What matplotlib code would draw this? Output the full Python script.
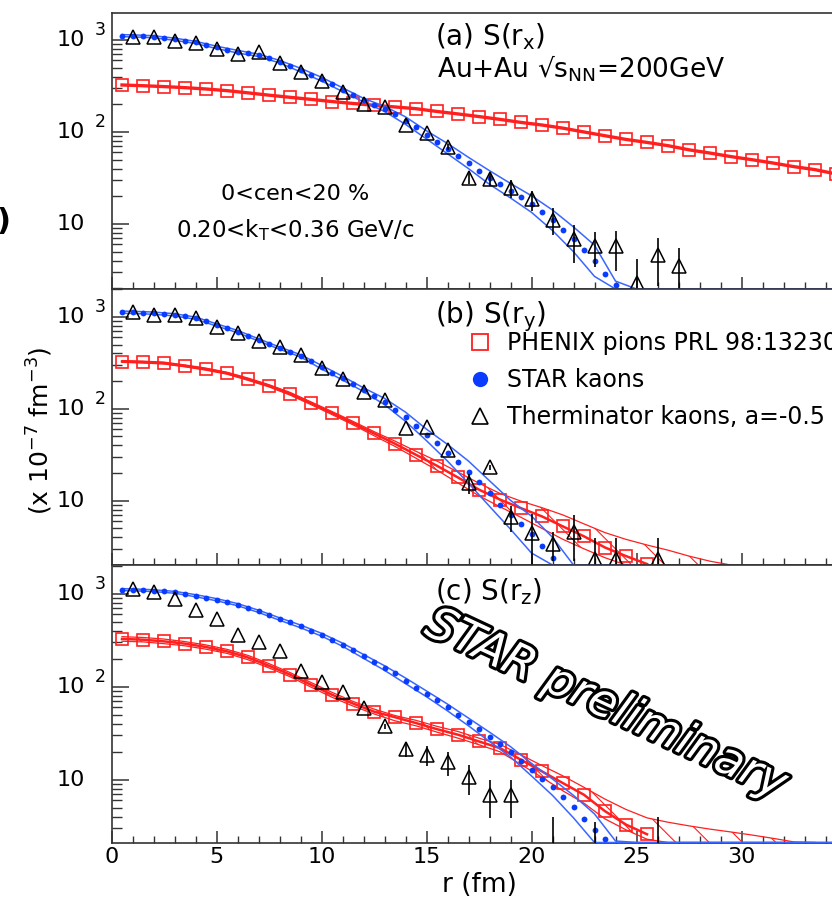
import numpy as np
import matplotlib.pyplot as plt
import matplotlib.patheffects as pe
from matplotlib.lines import Line2D
from matplotlib.ticker import FixedLocator, LogLocator, MultipleLocator, NullFormatter
from matplotlib.transforms import offset_copy

plt.rcParams['font.family'] = ['DejaVu Sans']
plt.rcParams['mathtext.default'] = 'regular'
plt.rcParams['hatch.linewidth'] = 0.8

RED = '#ff1f1f'
BLUE = '#0a3cff'
BAND_BLUE = '#3a66ff'
FRAME = '#333333'

W, H = 832, 901

# PHENIX pions (r = 0.5, 1.5, ...)
pi_r = np.arange(0.5, 35.0, 1.0)
pi_x = [324, 318, 311, 303, 293, 281, 266, 251, 238, 226, 214, 204, 195, 187, 179,
        167, 157, 147, 137, 127, 119, 110, 100, 91, 83, 77, 71, 64, 59, 54,
        50, 46, 42, 39, 35]
pi_y = [327, 322, 314, 293, 270, 244, 210, 178, 146, 115, 90, 70, 54, 41.7, 31.6,
        24, 17.9, 13.2, 10.3, 8.3, 6.75, 5.25, 4.1, 3.1, 2.5, 2.05]
pi_z = [326, 320, 307, 290, 267, 240, 206, 168, 135, 105, 82, 66, 54, 47, 40.7,
        35, 30.5, 25.8, 21.9, 16.4, 12.3, 9.2, 6.9, 4.6, 3.3, 2.6]

# PHENIX fit bands for S(r_y) and S(r_z)
pib_y_hi = [335, 330, 322, 300, 277, 250, 216, 183, 151, 119, 93.5, 73, 56.5, 44.5, 34.5,
            27, 20.5, 15.5, 12, 9.9, 8.4, 7.0, 5.6, 4.5, 3.8, 3.3, 2.9, 2.5, 2.2, 2.0]
pib_y_lo = [320, 315, 307, 286, 263, 238, 204, 173, 141, 111, 86.5, 67, 51, 39, 29,
            21.5, 15.6, 11.3, 8.6, 6.6, 5.0, 3.8, 3.0, 2.4, 2.0, 0, 0, 0, 0, 0]
pib_z_hi = [345, 338, 325, 305, 281, 252, 217, 177, 142, 111, 87, 69.5, 57.5, 49, 43.5,
            37.5, 33, 28, 24, 18.5, 14.2, 11, 8.3, 6.2, 4.8, 3.9, 3.5, 3.2, 2.95, 2.75,
            2.55, 2.35, 2.15, 0]
pib_z_lo = [308, 303, 290, 275, 253, 228, 195, 159, 128, 99, 77, 62, 51, 43, 38,
            32.5, 28, 23.8, 20, 14.6, 10.6, 7.6, 5.6, 3.8, 2.9, 2.3, 0, 0, 0, 0,
            0, 0, 0, 0]

# STAR kaons (r = 0.5, 1.0, 1.5, ...)
ka_x = [1110, 1105, 1095, 1080, 1050, 1015, 980, 940, 885, 830, 785, 745, 715, 680, 630,
        580, 525, 470, 420, 375, 330, 288, 252, 222, 198, 178, 155, 133, 112, 93,
        78, 66, 55, 46, 38, 32, 27, 23, 19.5, 16.5, 13.5, 11, 8.6, 6.8, 5.2,
        4.0, 2.9, 2.2]
ka_y = [1125, 1120, 1110, 1097, 1075, 1052, 1010, 968, 895, 818, 755, 692, 625, 562, 508,
        457, 415, 377, 330, 284, 248, 216, 187, 161, 139, 120, 98, 82, 65, 52,
        42, 33, 26.5, 20.5, 16, 12, 9, 7, 5.6, 4.3, 3.2, 2.4]
ka_z = [1104, 1100, 1090, 1076, 1055, 1033, 993, 950, 905, 861, 810, 762, 705, 646, 590,
        534, 490, 445, 400, 362, 320, 283, 245, 212, 185, 159, 140, 116, 98, 84,
        72, 60, 50, 42, 35, 29, 24.5, 20, 16, 12.8, 10.2, 8.3, 6.6, 5.1, 3.8,
        2.9, 2.3]

# STAR fit band edges
kb_r_x = [0.5] + list(range(1, 26)) + [35]
kb_x_hi = [1140, 1135, 1110, 1045, 965, 855, 770, 700, 600, 492, 393, 302, 232, 190, 146,
           103, 75, 53, 38, 27.6, 20.3, 14.2, 9.3, 5.9, 2.4, 0, 0]
kb_x_lo = [1085, 1080, 1055, 990, 915, 805, 722, 660, 563, 450, 358, 275, 212, 167, 121,
           84, 58, 40, 27, 19.2, 13.4, 8.5, 5.0, 2.7, 0, 0, 0]
kb_r_y = [0.5] + list(range(1, 26))
kb_y_hi = [1155, 1150, 1128, 1082, 995, 841, 712, 578, 470, 388, 297, 226, 169, 130, 92,
           60, 41, 27, 16.5, 10.1, 6.8, 4.0, 2.0, 0, 0, 0]
kb_y_lo = [1095, 1090, 1067, 1024, 942, 796, 673, 547, 445, 367, 271, 206, 154, 111, 73,
           45, 27, 15.5, 8.7, 4.9, 2.7, 0, 0, 0, 0, 0]
kb_r_z = [0.5] + list(range(1, 26)) + [35]
kb_z_hi = [1130, 1125, 1100, 1058, 975, 884, 782, 664, 550, 460, 375, 294, 222, 168, 124,
           90, 65, 46, 32.5, 22.7, 15, 10.2, 6.8, 4.3, 2.2, 0, 0]
kb_z_lo = [1080, 1075, 1052, 1010, 925, 838, 742, 628, 518, 430, 350, 272, 202, 150, 108,
           78, 55, 38, 25.8, 17.6, 11, 6.8, 3.9, 2.1, 0, 0, 0]

# Therminator kaons, a=-0.5
th_r_x = list(range(1, 28))
th_x = [1070, 1086, 975, 927, 805, 700, 740, 566, 446, 356, 272, 201, 187, 120, 98,
        69, 32, 30.6, 24.8, 18.5, 11.2, 6.8, 5.8, 5.8, 2.27, 4.6, 3.5]
th_x_err = [0, 0, 0, 0, 0, 0, 0, 0, 0, 0, 0, 0, 0, 0, 0,
            5, 5, 5, 5.5, 4.5, 3.6, 3.0, 2.4, 2.7, 1.9, 2.5, 2.0]
th_r_y = list(range(1, 25)) + [26]
th_y = [1143, 1052, 1052, 968, 785, 665, 540, 469, 386, 277, 210, 154, 124, 61.7, 64,
        35.3, 15.6, 23.2, 6.7, 4.5, 3.4, 4.6, 2.3, 2.3, 2.3]
th_y_err = [0, 0, 0, 0, 0, 0, 0, 0, 0, 0, 0, 0, 0, 0, 0,
            0, 3.8, 1.5, 2.1, 2.6, 1.2, 2.4, 1.6, 1.6, 1.6]
th_r_z = list(range(1, 20)) + [21, 23, 26]
th_z = [1122, 1033, 877, 661, 534, 362, 299, 240, 146, 111, 88, 59, 37.4, 21.6, 18.6,
        15.4, 10.6, 6.9, 6.9, 1.0, 1.0, 1.0]
th_z_err = [0, 0, 0, 0, 0, 0, 0, 0, 0, 0, 0, 0, 2, 4, 4.5,
            4.4, 3.7, 3.0, 3.0, 3.0, 2.5, 3.0]


def px(x):
    return x / W


def py(y):
    return 1 - y / H


def ka_r(vals):
    return 0.5 * np.arange(1, len(vals) + 1)


def draw_panel(ax, pions, pi_band, kaons, ka_band, therm, red_lw):
    ymin = ax.get_ylim()[0]

    # PHENIX band with hatching
    if pi_band is not None:
        hi, lo = (np.clip(np.array(v, float), ymin, None) for v in pi_band)
        rb = pi_r[:len(hi)]
        ax.fill_between(rb, lo, hi, facecolor='none', edgecolor=RED,
                        hatch='\\', linewidth=0, zorder=2)
        ax.plot(rb, hi, color=RED, lw=0.9, zorder=2)
        ax.plot(rb, lo, color=RED, lw=0.9, zorder=2)

    rp = pi_r[:len(pions)]
    ax.plot(rp, pions, color=RED, lw=red_lw, zorder=3)
    ax.plot(rp, pions, ls='none', marker='s', ms=9, mfc='none', mec=RED,
            mew=1.2, zorder=3)

    # STAR band and points
    rk, khi, klo = ka_band
    ax.plot(rk, np.clip(np.array(khi, float), ymin, None), color=BAND_BLUE, lw=1.1, zorder=3)
    ax.plot(rk, np.clip(np.array(klo, float), ymin, None), color=BAND_BLUE, lw=1.1, zorder=3)
    ax.plot(ka_r(kaons), kaons, ls='none', marker='o', ms=4.2, color=BLUE,
            mew=0, zorder=3)

    # Therminator points with error bars
    tr, tv, te = (np.array(a, float) for a in therm)
    m = te > 0
    ax.vlines(tr[m], np.clip(tv[m] - te[m], ymin * 0.5, None), tv[m] + te[m],
              color='black', lw=1.2, zorder=4)
    ax.plot(tr, tv, ls='none', marker='^', ms=9.5, mfc='none', mec='black',
            mew=1.1, zorder=4)


def style_axes(ax, ylim, fig, show_xlabels):
    ax.set_yscale('log')
    ax.set_xlim(0, 720.5 / 21.0)
    ax.set_ylim(*ylim)
    ax.spines['right'].set_visible(False)
    for s in ('left', 'top', 'bottom'):
        ax.spines[s].set_color(FRAME)
        ax.spines[s].set_linewidth(1.2)
    ax.yaxis.set_major_locator(FixedLocator([10, 100, 1000]))
    ax.yaxis.set_minor_locator(LogLocator(base=10, subs=np.arange(2, 10)))
    ax.yaxis.set_major_formatter(NullFormatter())
    ax.yaxis.set_minor_formatter(NullFormatter())
    ax.xaxis.set_major_locator(MultipleLocator(5))
    ax.xaxis.set_minor_locator(MultipleLocator(1))
    ax.tick_params(axis='y', which='major', direction='in', length=12, width=1.1,
                   color=FRAME, right=False)
    ax.tick_params(axis='y', which='minor', direction='in', length=7, width=1.0,
                   color=FRAME, right=False)
    ax.tick_params(axis='x', which='major', direction='in', length=9, width=1.1,
                   color=FRAME, top=False, labelsize=16, pad=3,
                   labelbottom=show_xlabels)
    ax.tick_params(axis='x', which='minor', direction='in', length=5, width=1.0,
                   color=FRAME, top=False)

    # decade labels written as "10" with a raised exponent
    trans = ax.get_yaxis_transform()
    sup = offset_copy(trans, fig=fig, x=0, y=10, units='dots')
    for e in (1, 2, 3):
        ax.text(-0.0368, 10.0 ** e, '10', transform=trans, ha='right',
                va='center', fontsize=16)
        if e > 1:
            ax.text(-0.0229, 10.0 ** e, str(e), transform=sup, ha='left',
                    va='center', fontsize=12.5)


fig = plt.figure(figsize=(W / 100, H / 100), dpi=100)
left, width = px(111.5), 1 - px(111.5)
ax_a = fig.add_axes([left, py(289), width, (289 - 13) / H])
ax_b = fig.add_axes([left, py(565), width, (565 - 289) / H])
ax_c = fig.add_axes([left, py(842.5), width, (842.5 - 565) / H])

style_axes(ax_a, (1.97, 1960), fig, False)
style_axes(ax_b, (2.0, 2010), fig, False)
style_axes(ax_c, (2.12, 2030), fig, True)

draw_panel(ax_a, pi_x, None, ka_x, (kb_r_x, kb_x_hi, kb_x_lo),
           (th_r_x, th_x, th_x_err), 2.4)
draw_panel(ax_b, pi_y, (pib_y_hi, pib_y_lo), ka_y, (kb_r_y, kb_y_hi, kb_y_lo),
           (th_r_y, th_y, th_y_err), 1.8)
draw_panel(ax_c, pi_z, (pib_z_hi, pib_z_lo), ka_z, (kb_r_z, kb_z_hi, kb_z_lo),
           (th_r_z, th_z, th_z_err), 1.8)

# panel titles and labels
fig.text(px(435), py(45), r'(a) S(r$_{x}$)', fontsize=20, va='baseline')
fig.text(px(437), py(77), r'Au+Au √s$_{NN}$=200GeV', fontsize=19, va='baseline')
fig.text(px(435), py(323), r'(b) S(r$_{y}$)', fontsize=20, va='baseline')
fig.text(px(435), py(600), r'(c) S(r$_{z}$)', fontsize=20, va='baseline')
fig.text(px(295), py(194), '0<cen<20 %', fontsize=16, ha='center', va='center')
fig.text(px(295), py(230), r'0.20<k$_{T}$<0.36 GeV/c', fontsize=16.5,
         ha='center', va='center')
fig.text(px(40), py(431), r'(x 10$^{-7}$ fm$^{-3}$)', fontsize=18, rotation=90,
         ha='center', va='center')
fig.text(px(479), py(885), 'r (fm)', fontsize=19, ha='center', va='center')
fig.text(px(-3), py(222), ')', fontsize=22, fontweight='bold', ha='left', va='center')

fig.text(px(606), py(705), 'STAR preliminary', fontsize=33, style='italic',
         rotation=-25, rotation_mode='anchor', ha='center', va='center',
         color='white', zorder=10,
         path_effects=[pe.withStroke(linewidth=4.5, foreground='black')])

handles = [
    Line2D([], [], ls='none', marker='s', ms=11, mfc='none', mec=RED, mew=1.3),
    Line2D([], [], ls='none', marker='o', ms=11, color=BLUE, mew=0),
    Line2D([], [], ls='none', marker='^', ms=11, mfc='none', mec='black', mew=1.2),
]
labels = ['PHENIX pions PRL 98:132301', 'STAR kaons', 'Therminator kaons, a=-0.5']
fig.legend(handles, labels, loc='upper left', bbox_to_anchor=(px(468), py(331)),
           frameon=False, fontsize=17, handlelength=1.0, handletextpad=0.64,
           labelspacing=0.56, borderpad=0, borderaxespad=0, numpoints=1)

fig.savefig('out.png', dpi=100)
